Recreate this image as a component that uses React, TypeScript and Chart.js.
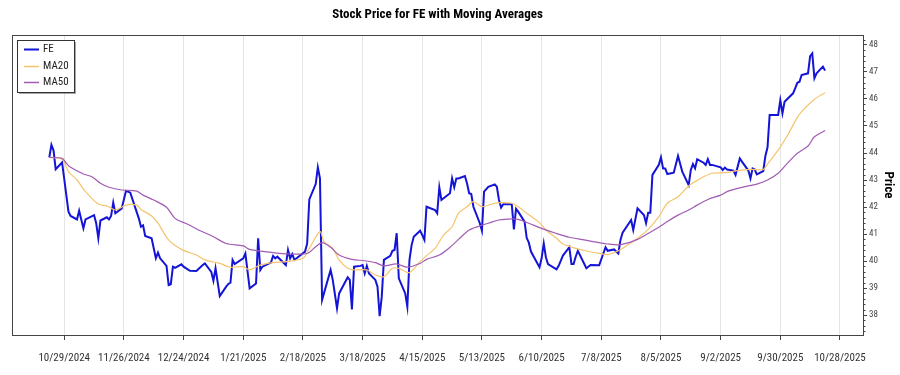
import React, { useEffect, useRef } from "react";
import { Chart, registerables } from "chart.js";
Chart.register(...registerables);

const FONT = "'Liberation Sans Narrow', 'Roboto Condensed', Roboto, Arial, sans-serif";

const titleText = "Stock Price for FE with Moving Averages";
const yAxisTitle = "Price";
const seriesNames = ["FE", "MA20", "MA50"];
const seriesColors = ["#1414d6", "#f5c46c", "#a25cb3"];

const xTickDates = [
  "2024-10-29", "2024-11-26", "2024-12-24", "2025-01-21", "2025-02-18", "2025-03-18", "2025-04-15",
  "2025-05-13", "2025-06-10", "2025-07-08", "2025-08-05", "2025-09-02", "2025-09-30", "2025-10-28",
];
const yTicks = [38, 39, 40, 41, 42, 43, 44, 45, 46, 47, 48];

const priceDates = [
  "2024-10-22","2024-10-23","2024-10-24","2024-10-25","2024-10-28","2024-10-31","2024-11-01","2024-11-04","2024-11-05","2024-11-07",
  "2024-11-08","2024-11-12","2024-11-13","2024-11-14","2024-11-15","2024-11-18","2024-11-19","2024-11-20","2024-11-21","2024-11-22",
  "2024-11-25","2024-11-27","2024-11-29","2024-12-03","2024-12-04","2024-12-05","2024-12-06","2024-12-09","2024-12-11","2024-12-12",
  "2024-12-13","2024-12-16","2024-12-17","2024-12-18","2024-12-19","2024-12-20","2024-12-23","2024-12-24","2024-12-27","2024-12-30",
  "2025-01-02","2025-01-03","2025-01-06","2025-01-07","2025-01-08","2025-01-10","2025-01-13","2025-01-14","2025-01-15","2025-01-16",
  "2025-01-17","2025-01-21","2025-01-22","2025-01-24","2025-01-27","2025-01-28","2025-01-29","2025-01-30","2025-02-03","2025-02-04",
  "2025-02-05","2025-02-06","2025-02-10","2025-02-11","2025-02-12","2025-02-13","2025-02-14","2025-02-19","2025-02-20","2025-02-21",
  "2025-02-24","2025-02-25","2025-02-26","2025-02-27","2025-03-03","2025-03-04","2025-03-06","2025-03-07","2025-03-11","2025-03-12",
  "2025-03-13","2025-03-14","2025-03-17","2025-03-18","2025-03-19","2025-03-20","2025-03-21","2025-03-24","2025-03-25","2025-03-26",
  "2025-03-27","2025-03-28","2025-03-31","2025-04-01","2025-04-02","2025-04-03","2025-04-04","2025-04-07","2025-04-08","2025-04-09",
  "2025-04-10","2025-04-11","2025-04-14","2025-04-15","2025-04-16","2025-04-17","2025-04-21","2025-04-22","2025-04-23","2025-04-24",
  "2025-04-28","2025-04-29","2025-04-30","2025-05-01","2025-05-02","2025-05-05","2025-05-06","2025-05-07","2025-05-08","2025-05-09",
  "2025-05-12","2025-05-13","2025-05-14","2025-05-16","2025-05-19","2025-05-20","2025-05-21","2025-05-22","2025-05-23","2025-05-27",
  "2025-05-28","2025-05-29","2025-05-30","2025-06-02","2025-06-03","2025-06-04","2025-06-05","2025-06-09","2025-06-10","2025-06-11",
  "2025-06-12","2025-06-13","2025-06-17","2025-06-18","2025-06-20","2025-06-23","2025-06-24","2025-06-25","2025-06-26","2025-06-27",
  "2025-07-01","2025-07-03","2025-07-07","2025-07-10","2025-07-11","2025-07-14","2025-07-16","2025-07-17","2025-07-18","2025-07-22",
  "2025-07-23","2025-07-25","2025-07-28","2025-07-29","2025-07-30","2025-07-31","2025-08-01","2025-08-04","2025-08-05","2025-08-06",
  "2025-08-07","2025-08-08","2025-08-11","2025-08-13","2025-08-15","2025-08-18","2025-08-19","2025-08-20","2025-08-21","2025-08-22",
  "2025-08-25","2025-08-26","2025-08-27","2025-08-28","2025-08-29","2025-09-02","2025-09-03","2025-09-04","2025-09-05","2025-09-08",
  "2025-09-09","2025-09-11","2025-09-12","2025-09-15","2025-09-16","2025-09-17","2025-09-18","2025-09-19","2025-09-22","2025-09-23",
  "2025-09-24","2025-09-25","2025-09-26","2025-09-29","2025-09-30","2025-10-01","2025-10-02","2025-10-06","2025-10-07","2025-10-08",
  "2025-10-09","2025-10-10","2025-10-13","2025-10-14","2025-10-15","2025-10-16","2025-10-17","2025-10-20","2025-10-21",
];
const priceValues = [
  43.84,44.30,44.09,43.40,43.65,41.83,41.67,41.54,41.86,41.21,
  41.54,41.70,41.40,40.84,41.50,41.62,41.54,41.67,42.16,41.77,
  41.95,42.60,42.53,41.58,41.27,41.32,40.93,40.84,40.10,40.31,
  40.10,39.82,39.11,39.14,39.79,39.75,39.88,39.79,39.64,39.63,
  39.85,39.91,39.60,39.27,39.73,38.70,39.05,39.15,39.20,40.04,
  39.89,40.10,40.28,38.99,39.17,40.84,39.67,39.79,39.94,40.19,
  40.10,40.16,39.85,40.41,40.10,40.26,40.04,40.35,40.65,42.28,
  42.85,43.47,43.06,38.56,39.67,39.30,38.25,38.80,39.40,39.30,
  38.21,39.79,39.82,39.85,39.54,39.82,39.54,39.30,39.05,37.96,
  38.68,40.04,40.19,40.38,40.41,41.03,39.36,38.80,38.31,40.04,
  40.59,40.90,41.12,40.96,40.78,42.01,41.89,41.77,42.73,42.26,
  42.51,43.06,42.73,43.06,43.06,43.15,42.88,42.51,42.48,42.01,
  41.40,41.12,42.57,42.75,42.84,42.75,42.26,41.98,42.10,42.10,
  41.17,41.93,41.83,41.46,40.86,40.68,40.35,39.77,40.10,40.65,
  40.14,39.89,39.69,39.82,40.20,40.51,39.89,39.89,40.16,40.38,
  39.73,39.85,39.84,40.51,40.38,40.43,40.28,40.78,41.05,41.52,
  41.15,41.95,41.70,41.40,41.79,41.79,43.19,43.56,43.84,43.43,
  43.43,43.22,43.27,43.89,43.31,42.81,43.37,43.59,43.43,43.77,
  43.64,43.56,43.77,43.56,43.56,43.47,43.37,43.46,43.39,43.35,
  43.19,43.80,43.68,43.35,43.06,43.43,43.39,43.21,43.33,43.89,
  44.21,45.41,45.41,45.41,45.96,45.47,45.90,46.21,46.40,46.60,
  46.64,46.89,46.95,47.59,47.69,46.77,46.95,47.20,47.05,
];

const ma20Dates = [
  "2024-10-22","2024-10-28","2024-10-31","2024-11-04","2024-11-08","2024-11-14","2024-11-18","2024-11-22","2024-11-27","2024-12-02",
  "2024-12-04","2024-12-09","2024-12-12","2024-12-17","2024-12-23","2024-12-30","2025-01-03","2025-01-10","2025-01-15","2025-01-21",
  "2025-01-24","2025-01-29","2025-02-04","2025-02-10","2025-02-18","2025-02-21","2025-02-26","2025-02-28","2025-03-04","2025-03-07",
  "2025-03-11","2025-03-14","2025-03-20","2025-03-24","2025-03-28","2025-04-01","2025-04-04","2025-04-09","2025-04-14","2025-04-17",
  "2025-04-21","2025-04-25","2025-04-29","2025-05-02","2025-05-06","2025-05-09","2025-05-13","2025-05-19","2025-05-22","2025-05-27",
  "2025-05-30","2025-06-03","2025-06-09","2025-06-12","2025-06-17","2025-06-20","2025-06-26","2025-07-01","2025-07-07","2025-07-11",
  "2025-07-16","2025-07-21","2025-07-25","2025-07-30","2025-08-04","2025-08-08","2025-08-13","2025-08-18","2025-08-21","2025-08-25",
  "2025-08-29","2025-09-04","2025-09-10","2025-09-16","2025-09-22","2025-09-24","2025-09-29","2025-10-03","2025-10-08","2025-10-10",
  "2025-10-16","2025-10-21",
];
const ma20Values = [
  43.84,43.77,43.31,43.00,42.57,42.11,42.04,41.89,42.07,42.07,
  41.91,41.67,41.40,40.78,40.43,40.22,40.04,39.91,39.77,39.79,
  39.67,39.85,39.94,39.98,40.10,40.47,41.09,40.70,40.47,40.04,
  39.73,39.67,39.67,39.48,39.42,39.73,39.73,39.57,39.98,40.20,
  40.47,40.96,41.27,41.77,42.01,42.20,42.01,42.14,42.16,42.14,
  42.01,41.77,41.42,41.15,40.84,40.63,40.47,40.37,40.28,40.24,
  40.38,40.63,40.84,41.17,41.64,42.14,42.38,42.78,42.94,43.12,
  43.25,43.27,43.35,43.39,43.39,43.59,44.11,44.60,45.32,45.53,
  45.99,46.23,
];

const ma50Dates = [
  "2024-10-22","2024-10-28","2024-10-30","2024-11-01","2024-11-07","2024-11-11","2024-11-15","2024-11-19","2024-11-25","2024-12-02",
  "2024-12-05","2024-12-10","2024-12-16","2024-12-20","2024-12-26","2024-12-31","2025-01-07","2025-01-13","2025-01-21","2025-01-24",
  "2025-01-31","2025-02-07","2025-02-13","2025-02-20","2025-02-24","2025-02-27","2025-03-03","2025-03-07","2025-03-13","2025-03-19",
  "2025-03-24","2025-03-28","2025-04-03","2025-04-08","2025-04-14","2025-04-17","2025-04-23","2025-04-28","2025-05-02","2025-05-07",
  "2025-05-12","2025-05-16","2025-05-21","2025-05-27","2025-05-30","2025-06-04","2025-06-10","2025-06-17","2025-06-23","2025-06-30",
  "2025-07-07","2025-07-11","2025-07-16","2025-07-21","2025-07-25","2025-07-30","2025-08-04","2025-08-08","2025-08-13","2025-08-18",
  "2025-08-22","2025-08-27","2025-09-02","2025-09-05","2025-09-10","2025-09-15","2025-09-19","2025-09-24","2025-09-29","2025-10-03",
  "2025-10-08","2025-10-13","2025-10-16","2025-10-21",
];
const ma50Values = [
  43.84,43.80,43.62,43.47,43.22,43.12,42.88,42.73,42.63,42.59,
  42.44,42.26,41.99,41.58,41.36,41.15,40.90,40.65,40.56,40.43,
  40.35,40.28,40.26,40.28,40.53,40.68,40.51,40.22,40.06,40.01,
  39.94,39.82,39.89,39.77,39.91,40.06,40.22,40.51,40.80,41.15,
  41.30,41.40,41.52,41.56,41.54,41.40,41.21,41.02,40.88,40.78,
  40.68,40.63,40.60,40.68,40.80,41.02,41.25,41.46,41.70,41.89,
  42.07,42.28,42.44,42.57,42.69,42.78,42.85,43.00,43.25,43.59,
  43.99,44.26,44.60,44.83,
];

const DAY0 = Date.UTC(2024, 9, 29);
const toDay = (s: string) => {
  const [y, m, d] = s.split("-").map(Number);
  return (Date.UTC(y, m - 1, d) - DAY0) / 86400000;
};
const fmtDay = (day: number) => {
  const dt = new Date(DAY0 + Math.round(day) * 86400000);
  return `${dt.getUTCMonth() + 1}/${dt.getUTCDate()}/${dt.getUTCFullYear()}`;
};
const pts = (dates: string[], vals: number[]) => dates.map((d, i) => ({ x: toDay(d), y: vals[i] }));

const decorPlugin = {
  id: "decor",
  afterDraw(chart: any) {
    const { ctx, chartArea } = chart;
    const { left, top, right, bottom } = chartArea;
    ctx.save();
    // frame
    ctx.strokeStyle = "#444";
    ctx.lineWidth = 1;
    ctx.strokeRect(Math.round(left) + 0.5, Math.round(top) + 0.5, Math.round(right - left), Math.round(bottom - top));
    // minor ticks on right axis
    const ys = chart.scales.y;
    ctx.strokeStyle = "#444";
    ctx.beginPath();
    for (let i = 0; i <= 60; i++) {
      const v = 37 + i * 0.2;
      if (Math.abs(v - Math.round(v)) < 1e-6) continue;
      if (v < ys.min || v > ys.max) continue;
      const py = Math.round(ys.getPixelForValue(v)) + 0.5;
      ctx.moveTo(Math.round(right), py);
      ctx.lineTo(Math.round(right) + 2.5, py);
    }
    ctx.stroke();
    // title
    ctx.fillStyle = "#000";
    ctx.font = `bold 13px ${FONT}`;
    ctx.textAlign = "center";
    ctx.textBaseline = "middle";
    ctx.fillText(titleText, (left + right) / 2, 15);
    // legend
    const bx = 17, by = 40, bw = 57, bh = 52;
    ctx.fillStyle = "rgba(0,0,0,0.35)";
    ctx.fillRect(bx + 2, by + 2, bw, bh);
    ctx.fillStyle = "#fff";
    ctx.fillRect(bx, by, bw, bh);
    ctx.strokeStyle = "#333";
    ctx.strokeRect(bx + 0.5, by + 0.5, bw, bh);
    ctx.font = `11px ${FONT}`;
    ctx.textAlign = "left";
    seriesNames.forEach((name, i) => {
      const ly = by + 9 + i * 16.5;
      ctx.strokeStyle = seriesColors[i];
      ctx.lineWidth = i === 0 ? 2 : 1.5;
      ctx.beginPath();
      ctx.moveTo(bx + 7, Math.round(ly) + 0.5);
      ctx.lineTo(bx + 22, Math.round(ly) + 0.5);
      ctx.stroke();
      ctx.fillStyle = "#222";
      ctx.fillText(name, bx + 26, ly + 0.5);
    });
    ctx.restore();
  },
};

export default function App() {
  const ref = useRef<HTMLCanvasElement | null>(null);
  useEffect(() => {
    if (!ref.current) return;
    const xTicks = xTickDates.map(toDay);
    const chart = new Chart(ref.current, {
      type: "line",
      data: {
        datasets: [
          { label: seriesNames[0], data: pts(priceDates, priceValues), borderColor: seriesColors[0], borderWidth: 2, pointRadius: 0, tension: 0, order: 3 },
          { label: seriesNames[1], data: pts(ma20Dates, ma20Values), borderColor: seriesColors[1], borderWidth: 1.2, pointRadius: 0, tension: 0.3, order: 2 },
          { label: seriesNames[2], data: pts(ma50Dates, ma50Values), borderColor: seriesColors[2], borderWidth: 1.2, pointRadius: 0, tension: 0.3, order: 1 },
        ],
      },
      options: {
        animation: false,
        responsive: false,
        events: [],
        layout: { padding: { top: 35, left: 12, right: 0, bottom: 0 } },
        plugins: { legend: { display: false }, title: { display: false }, tooltip: { enabled: false } },
        scales: {
          x: {
            type: "linear",
            min: -24.5,
            max: 374.8,
            afterBuildTicks: (s: any) => { s.ticks = xTicks.map((v) => ({ value: v })); },
            afterFit: (s: any) => { s.height = 40; },
            grid: { color: "#e4e4e4", lineWidth: 1, drawTicks: true, tickLength: 5, tickColor: "#444" },
            border: { color: "#444" },
            ticks: {
              autoSkip: false, maxRotation: 0, padding: 12, color: "#333",
              font: { family: FONT, size: 11 },
              callback: (v: any) => fmtDay(Number(v)),
            },
          },
          y: {
            type: "linear",
            position: "right",
            min: 37.26,
            max: 48.37,
            afterBuildTicks: (s: any) => { s.ticks = yTicks.map((v) => ({ value: v })); },
            afterFit: (s: any) => { s.width = 37; },
            grid: { drawOnChartArea: false, drawTicks: true, tickLength: 4, tickColor: "#444" },
            border: { color: "#444" },
            ticks: { padding: 2, color: "#444", font: { family: FONT, size: 9 }, callback: (v: any) => String(v) },
            title: { display: true, text: yAxisTitle, color: "#000", font: { family: FONT, size: 13, weight: "bold" }, padding: { top: 4, bottom: 4 } },
          },
        },
      },
      plugins: [decorPlugin],
    } as any);
    return () => chart.destroy();
  }, []);
  return (
    <>
      <style>{`html,body{margin:0;padding:0;background:#fff;overflow:hidden}`}</style>
      <canvas ref={ref} width={900} height={375} style={{ display: "block", width: 900, height: 375 }} />
    </>
  );
}
